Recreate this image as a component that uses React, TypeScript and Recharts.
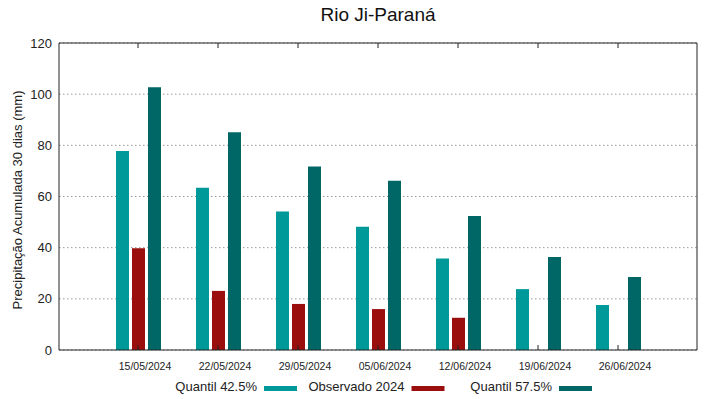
import React from 'react';
import { BarChart, Bar, XAxis, YAxis, CartesianGrid } from 'recharts';

const categories = ['15/05/2024', '22/05/2024', '29/05/2024', '05/06/2024', '12/06/2024', '19/06/2024', '26/06/2024'];
const quantil425 = [77.8, 63.4, 54.1, 48.2, 35.8, 23.8, 17.6];
const observado2024: (number | null)[] = [39.8, 23.1, 18.0, 16.0, 12.6, null, null];
const quantil575 = [102.7, 85.1, 71.7, 66.2, 52.4, 36.4, 28.5];
const yTicks = [0, 20, 40, 60, 80, 100, 120];

const seriesNames = ['Quantil 42.5%', 'Observado 2024', 'Quantil 57.5%'];
const seriesColors = ['#009999', '#9a0e0e', '#006666'];
const seriesKeys = ['q425', 'obs', 'q575'];

const data = categories.map((c, i) => ({
  date: c,
  q425: quantil425[i],
  obs: observado2024[i],
  q575: quantil575[i],
}));

const FONT = '"Liberation Sans", Arial, sans-serif';
const Empty = () => <g />;

export default function App() {
  return (
    <div style={{ position: 'absolute', left: 0, top: 0, width: 719, height: 399, background: '#fff', fontFamily: FONT }}>
      <BarChart
        width={719}
        height={399}
        data={data}
        margin={{ top: 43, right: 22, bottom: 29, left: 0 }}
        barSize={13}
        barGap={3}
      >
        <CartesianGrid vertical={false} stroke="#999" strokeDasharray="1.5 2.5" yAxisId={0} />
        <XAxis
          dataKey="date"
          padding={{ left: 39, right: 39 }}
          height={20}
          tickLine={false}
          tickSize={0}
          tickMargin={13}
          axisLine={{ stroke: '#222' }}
          tick={{ fontSize: 10.5, fill: '#222', fontFamily: FONT, dx: 7 }}
          interval={0}
        />
        <XAxis
          xAxisId="bm"
          dataKey="date"
          orientation="bottom"
          mirror
          padding={{ left: 39, right: 39 }}
          height={1}
          tickSize={5}
          tickLine={{ stroke: '#222' }}
          axisLine={false}
          tick={Empty}
          interval={0}
        />
        <XAxis
          xAxisId="top"
          dataKey="date"
          orientation="top"
          mirror
          padding={{ left: 39, right: 39 }}
          height={1}
          tickSize={5}
          tickLine={{ stroke: '#222' }}
          axisLine={{ stroke: '#222' }}
          tick={Empty}
          interval={0}
        />
        <YAxis
          domain={[0, 120]}
          ticks={yTicks}
          type="number"
          width={59}
          tickSize={0}
          tickMargin={7}
          axisLine={{ stroke: '#222' }}
          tick={{ fontSize: 13, fill: '#222', fontFamily: FONT }}
          interval={0}
          label={{
            content: () => (
              <text
                x={22}
                y={200}
                transform="rotate(-90 22 200)"
                textAnchor="middle"
                fontSize={13}
                fill="#222"
                fontFamily={FONT}
              >
                Precipitação Acumulada 30 dias (mm)
              </text>
            ),
          }}
        />
        <YAxis
          yAxisId="r"
          orientation="right"
          mirror
          domain={[0, 120]}
          ticks={yTicks}
          type="number"
          width={1}
          tickSize={5}
          tickLine={{ stroke: '#222' }}
          axisLine={{ stroke: '#222' }}
          tick={Empty}
          interval={0}
        />
        {seriesKeys.map((k, i) => (
          <Bar key={k} dataKey={k} name={seriesNames[i]} fill={seriesColors[i]} isAnimationActive={false} />
        ))}
        <text x={378} y={21} textAnchor="middle" fontSize={19} fill="#111" fontFamily={FONT}>
          Rio Ji-Paraná
        </text>
      </BarChart>
      <svg width={719} height={30} style={{ position: 'absolute', left: 0, top: 372 }}>
        {seriesNames.map((n, i) => (
          <g key={n}>
            <text x={257 + 147.5 * i} y={19} textAnchor="end" fontSize={13} fill="#222" fontFamily={FONT}>
              {n}
            </text>
            <rect x={264 + 147.5 * i} y={14} width={33} height={5} fill={seriesColors[i]} />
          </g>
        ))}
      </svg>
    </div>
  );
}
